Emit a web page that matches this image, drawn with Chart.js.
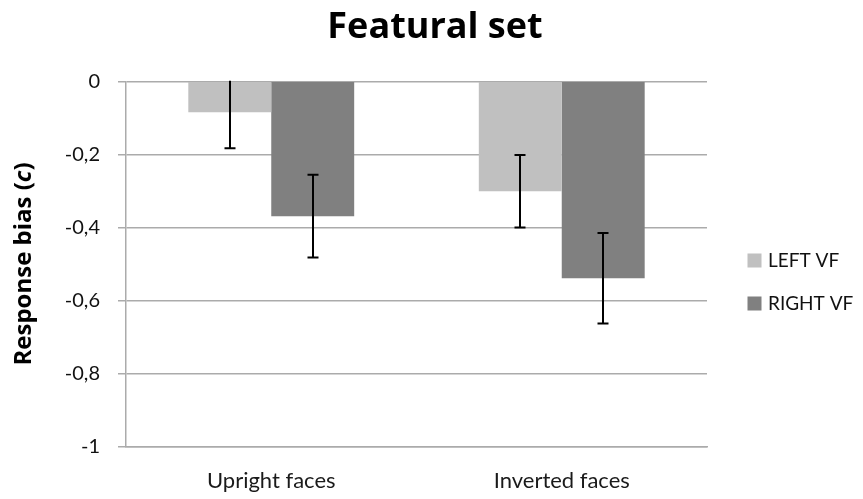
<!DOCTYPE html>
<html>
<head>
<meta charset="utf-8">
<script src="https://cdn.jsdelivr.net/npm/chart.js@4.4.1/dist/chart.umd.min.js"></script>
<style>
  html, body { margin: 0; padding: 0; background: #ffffff; }
  #wrap { width: 863px; height: 499px; position: relative; }
</style>
</head>
<body>
<div id="wrap"><canvas id="chart" width="863" height="499"></canvas></div>
<script>
// Response bias by face orientation and visual field
const chartTitle = 'Featural set';
const categories = ['Upright faces', 'Inverted faces'];
const seriesNames = ['LEFT VF', 'RIGHT VF'];
const leftVF = [-0.085, -0.301];
const rightVF = [-0.369, -0.539];
const leftVFErr = [0.098, 0.099];
const rightVFErr = [0.113, 0.124];
const yTicks = [0, -0.2, -0.4, -0.6, -0.8, -1];

const FONT = 'Lato, "Open Sans", Arial, sans-serif';
const BOLD_FONT = '"Open Sans", Lato, Arial, sans-serif';
const GRID = '#ababab';

// Vertical error bars, placed with the chart's own scales
const errorBars = {
  id: 'errorBars',
  afterDatasetsDraw(chart) {
    const { ctx, chartArea, scales } = chart;
    const y = scales.y;
    ctx.save();
    ctx.beginPath();
    ctx.rect(chartArea.left, chartArea.top - 0.5, chartArea.right - chartArea.left, chartArea.bottom - chartArea.top + 1);
    ctx.clip();
    ctx.strokeStyle = '#000000';
    ctx.lineWidth = 2;
    chart.data.datasets.forEach((ds, di) => {
      const meta = chart.getDatasetMeta(di);
      meta.data.forEach((bar, i) => {
        const v = ds.data[i], e = ds.errors[i];
        const yHi = y.getPixelForValue(v + e);
        const yLo = y.getPixelForValue(v - e);
        const x = Math.round(bar.x);
        ctx.beginPath();
        ctx.moveTo(x, yHi);
        ctx.lineTo(x, yLo);
        const half = 5.5;
        [yHi, yLo].forEach(py => {
          if (py >= chartArea.top + 1 && py <= chartArea.bottom) {
            ctx.moveTo(x - half, py);
            ctx.lineTo(x + half, py);
          }
        });
        ctx.stroke();
      });
    });
    ctx.restore();
  }
};

// Title, y-axis title (with italic symbol) and the legend at the right
const annotations = {
  id: 'annotations',
  afterDraw(chart) {
    const { ctx, chartArea } = chart;
    ctx.save();
    ctx.fillStyle = '#000000';

    // chart title
    ctx.font = 'bold 36px ' + BOLD_FONT;
    ctx.textAlign = 'center';
    ctx.textBaseline = 'alphabetic';
    ctx.fillText(chartTitle, 435, 37.5);

    // y-axis title, rotated
    const parts = [
      { t: 'Response bias (', f: 'bold 24px ' + BOLD_FONT },
      { t: 'c', f: 'italic bold 24px ' + BOLD_FONT },
      { t: ')', f: 'bold 24px ' + BOLD_FONT }
    ];
    let total = 0;
    parts.forEach(p => { ctx.font = p.f; p.w = ctx.measureText(p.t).width; total += p.w; });
    ctx.translate(24, (chartArea.top + chartArea.bottom) / 2);
    ctx.rotate(-Math.PI / 2);
    ctx.textAlign = 'left';
    ctx.textBaseline = 'middle';
    let x = -total / 2;
    parts.forEach(p => { ctx.font = p.f; ctx.fillText(p.t, x, 0); x += p.w; });
    ctx.setTransform(1, 0, 0, 1, 0, 0);

    // legend
    ctx.font = '19px ' + FONT;
    ctx.textAlign = 'left';
    ctx.textBaseline = 'middle';
    const rows = [253.5, 296.5];
    chart.data.datasets.forEach((ds, i) => {
      ctx.fillStyle = ds.backgroundColor;
      ctx.fillRect(747.5, rows[i], 14, 14);
      ctx.fillStyle = '#111111';
      ctx.fillText(ds.label, 768, rows[i] + 7.5);
    });
    ctx.restore();
  }
};

new Chart(document.getElementById('chart'), {
  type: 'bar',
  data: {
    labels: categories,
    datasets: [
      { label: seriesNames[0], data: leftVF, errors: leftVFErr, backgroundColor: '#c0c0c0' },
      { label: seriesNames[1], data: rightVF, errors: rightVFErr, backgroundColor: '#808080' }
    ]
  },
  options: {
    responsive: false,
    animation: false,
    devicePixelRatio: 1,
    layout: { padding: { top: 81.3, right: 156, bottom: 0, left: 0 } },
    datasets: { bar: { barPercentage: 1, categoryPercentage: 0.571, borderWidth: 0 } },
    plugins: {
      legend: { display: false },
      title: { display: false },
      tooltip: { enabled: false }
    },
    scales: {
      x: {
        grid: { display: false, drawTicks: false },
        border: { display: true, color: GRID, width: 1.5 },
        ticks: { color: '#1a1a1a', font: { family: FONT, size: 22 }, padding: 21 },
        afterFit(scale) { scale.height = 52.3; }
      },
      y: {
        min: -1,
        max: 0,
        afterBuildTicks(scale) { scale.ticks = yTicks.map(v => ({ value: v })); },
        grid: { color: GRID, lineWidth: 1.5, tickLength: 8, drawTicks: true },
        border: { display: true, color: GRID, width: 1.5 },
        ticks: {
          color: '#111111',
          font: { family: FONT, size: 20 },
          padding: 18,
          callback: v => String(Number(v.toFixed(1))).replace('.', ',')
        },
        afterFit(scale) { scale.width = 126; }
      }
    }
  },
  plugins: [errorBars, annotations]
});
</script>
</body>
</html>
